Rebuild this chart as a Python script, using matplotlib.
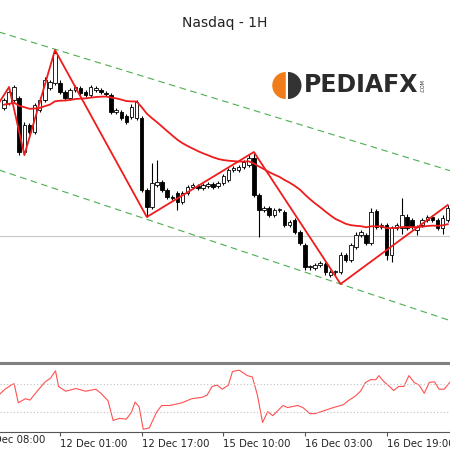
import matplotlib.pyplot as plt
import matplotlib.patches as mpatches
import numpy as np
import pandas as pd

# hourly candles (price units)
opens = [342, 347, 350, 352, 298, 325, 318, 340, 350, 362, 367, 367, 358, 352, 360, 362, 358, 355, 360, 360,
         357, 355, 338, 338, 334, 333, 332, 332, 260, 243, 265, 268, 260, 253, 257, 248, 257, 263, 264, 262,
         264, 266, 264, 267, 270, 280, 280, 283, 285, 292, 255, 240, 242, 235, 240, 238, 225, 230, 218, 205,
         183, 182, 185, 186, 175, 178, 178, 195, 190, 203, 215, 215, 207, 239, 223, 225, 195, 222, 222, 233,
         230, 220, 225, 230, 233, 230, 222, 230]
closes = [350, 358, 363, 298, 325, 318, 345, 350, 370, 368, 397, 358, 352, 360, 363, 357, 355, 363, 362, 358,
          356, 338, 340, 332, 328, 343, 348, 260, 243, 267, 268, 260, 253, 252, 248, 257, 263, 265, 262, 265,
          266, 263, 267, 274, 280, 282, 283, 288, 292, 255, 240, 242, 235, 240, 240.5, 225, 228, 218, 207, 183,
          183.5, 185, 187, 178, 178, 178.5, 195, 190, 205, 215, 218, 207, 238, 223, 225, 195, 222, 225, 235, 222,
          223, 223, 230, 233, 230, 222, 232, 242]
wick_up = [2, 3, 2, 2, 3, 2, 2, 3, 3, 2, 3, 3, 2, 2, 2, 2, 2, 2, 2, 2,
           2, 2, 2, 2, 2, 3, 2, 2, 2, 20, 22, 2, 2, 2, 2, 2, 2, 2, 2, 2,
           2, 2, 2, 2, 2, 2, 2, 2, 3, 6, 2, 2, 2, 2, 2, 2, 2, 2, 2, 2,
           2, 2, 2, 2, 2, 2, 3, 2, 2, 3, 2, 2, 4, 2, 2, 2, 2, 2, 17, 3,
           2, 2, 2, 2, 2, 2, 3, 3]
wick_dn = [2, 2, 2, 3, 3, 2, 2, 2, 2, 2, 2, 2, 2, 2, 2, 2, 2, 2, 2, 2,
           2, 2, 2, 2, 2, 2, 2, 2, 10, 2, 2, 2, 2, 2, 8, 2, 2, 2, 2, 2,
           2, 2, 2, 2, 2, 2, 2, 2, 2, 2, 27, 2, 2, 2, 2, 2, 2, 2, 2, 3,
           3, 2, 2, 3, 2, 3, 2, 2, 2, 2, 2, 2, 2, 2, 2, 5, 7, 2, 6, 2,
           2, 5, 2, 2, 2, 2, 6, 2]
ma_seed = 345  # moving average value before the first visible candle

zigzag_idx = [-1, 1, 4, 10, 28, 49, 66, 87]
zigzag_px = [347, 363, 295, 400, 233, 298, 166, 245]

upper_channel = (418, 278)
lower_channel = (280, 128)
level_price = 214

osc_idx = [-0.8, 0.2, 1.6, 2, 2.8, 4.2, 5.1, 6.5, 8.1, 9.1, 10.1, 10.7, 12.1, 14.1, 16, 18, 19, 20.4, 21.4,
           22.6, 24, 25, 25.7, 26.5, 27.3, 28.5, 29.9, 30.9, 32.5, 34.9, 36.8, 38.8, 39.8, 40.8, 41.8, 42.8,
           44, 44.8, 46.1, 47.7, 48.7, 49.7, 50.7, 51.7, 52.7, 54.7, 55.6, 57.6, 58.6, 60, 61, 62.6, 64.6,
           66.5, 67.5, 68.9, 69.9, 70.9, 71.9, 72.9, 73.5, 74.5, 75.6, 76.4, 77.4, 78.4, 79.4, 80.4, 81.4,
           82.4, 83.4, 84.4, 85.3, 86.3, 88.3]
osc_val = [56, 63, 70, 71, 43, 49, 47, 60, 74, 79, 90, 67, 60, 64, 60, 63, 57, 46, 17, 20, 19, 29, 44, 37, 4,
           6, 29, 39, 39, 43, 49, 51, 54, 67, 69, 63, 69, 89, 91, 83, 81, 54, 14, 30, 24, 39, 36, 39, 36, 27,
           27, 31, 36, 40, 46, 53, 60, 73, 77, 77, 83, 74, 67, 61, 67, 67, 83, 73, 69, 57, 73, 74, 63, 63, 81]

tick_idx = [-5, 11, 27, 43, 59, 75]
tick_labels = ['11 Dec 08:00', '12 Dec 01:00', '12 Dec 17:00', '15 Dec 10:00', '16 Dec 03:00', '16 Dec 19:00']

o = np.array(opens, float)
c = np.array(closes, float)
hi = np.maximum(o, c) + np.array(wick_up)
lo = np.minimum(o, c) - np.array(wick_dn)
n = len(o)
t = np.arange(n)
xl = (-0.78, 87.45)

fig = plt.figure(figsize=(4.5, 4.5), dpi=100)
ax = fig.add_axes([0, 0.2, 1, 0.8])
osc = fig.add_axes([0, 0.04, 1, 0.151])

ax.axhline(level_price, color='#c8c8c8', lw=0.8, zorder=0)
ax.plot([xl[0] - 0.2, 88.3], upper_channel, color='#4caf50', lw=0.8, dashes=(6, 4))
ax.plot([xl[0] - 0.2, 88.3], lower_channel, color='#4caf50', lw=0.8, dashes=(6, 4))

for i in range(n):
    ax.vlines(t[i], lo[i], hi[i], color='black', lw=0.8, zorder=2)
    up = c[i] >= o[i]
    ax.add_patch(mpatches.Rectangle((t[i] - 0.35, min(o[i], c[i])), 0.7, max(abs(c[i] - o[i]), 0.8),
                                    facecolor='white' if up else 'black', edgecolor='black', lw=0.6, zorder=3))

ma = pd.Series([ma_seed] + closes).ewm(span=30, adjust=False).mean().to_numpy()[1:]
ax.plot(t, ma, color='#ee1c1c', lw=1.3, zorder=4)
ax.plot(zigzag_idx, zigzag_px, color='#ee1c1c', lw=1.3, zorder=4)

ax.set_xlim(*xl)
ax.set_ylim(90, 450)
ax.axis('off')
fig.text(0.5, 0.95, 'Nasdaq - 1H', ha='center', va='center', fontsize=10, color='#222')

# logo
fig.patches.append(mpatches.Wedge((0.635, 0.81), 0.03, 90, 270, facecolor='#f07d1a', transform=fig.transFigure))
fig.patches.append(mpatches.Wedge((0.64, 0.81), 0.03, -90, 90, facecolor='#333333', transform=fig.transFigure))
fig.text(0.675, 0.81, 'PEDIAFX', fontsize=17, fontweight='bold', color='#2b2b2b', va='center')
fig.text(0.935, 0.81, '.COM', fontsize=3.5, rotation=90, color='#2b2b2b', va='center')

fig.add_artist(plt.Line2D([0, 1], [0.194, 0.194], color='#808080', lw=2.2, transform=fig.transFigure))

osc.plot(osc_idx, osc_val, color='#ff5050', lw=0.8)
for lv in (70, 30):
    osc.axhline(lv, color='#c0c0c0', lw=0.8, ls=(0, (1, 2)))
osc.set_xlim(*xl)
osc.set_ylim(0, 100)
for s in ('left', 'right', 'top'):
    osc.spines[s].set_visible(False)
osc.spines['bottom'].set_color('#555')
osc.set_yticks([])
osc.set_xticks(tick_idx[1:])
osc.set_xticklabels(tick_labels[1:], fontsize=7.3, ha='left', color='#222')
osc.tick_params(axis='x', length=3, pad=2, color='#555')
# first label's tick lies left of the visible range
osc.text(tick_idx[0], -0.04, tick_labels[0], transform=osc.get_xaxis_transform(), fontsize=7.3,
         ha='left', va='top', color='#222', clip_on=False)

fig.savefig('out.png', dpi=100, facecolor='white')
